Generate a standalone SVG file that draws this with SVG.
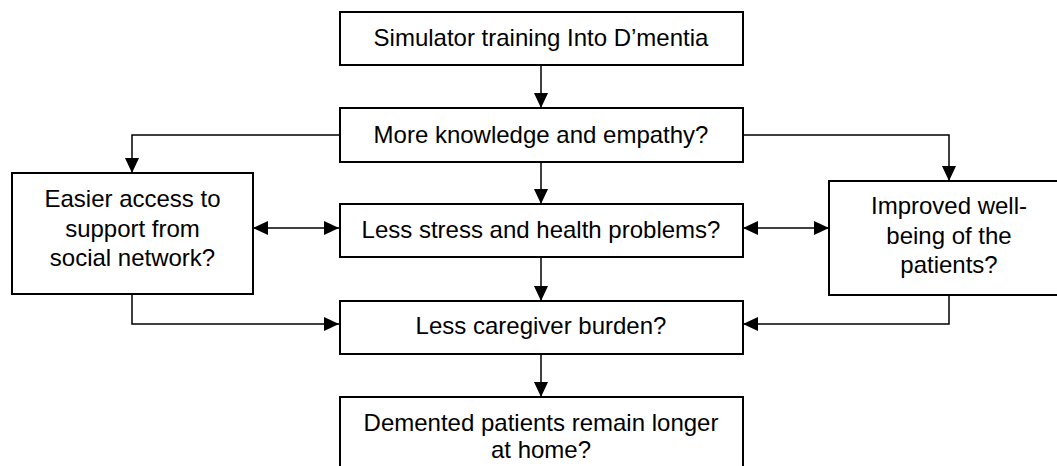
<svg xmlns="http://www.w3.org/2000/svg" width="1057" height="466" viewBox="0 0 1057 466">
<style>
.box{fill:#fff;stroke:#000;stroke-width:2}
.t{font-family:"Liberation Sans",Arial,sans-serif;font-size:24px;fill:#000;text-anchor:middle}
.c{fill:none;stroke:#000;stroke-width:1.5}
</style>
<defs>
<marker id="ah" markerUnits="userSpaceOnUse" markerWidth="15" markerHeight="14" refX="15" refY="7" orient="auto-start-reverse">
<path d="M0,0 L15,7 L0,14 z" fill="#000"/>
</marker>
</defs>
<rect width="1057" height="466" fill="#fff"/>
<g id="connectors">
<line class="c" x1="541" y1="65" x2="541" y2="108" marker-end="url(#ah)"/>
<line class="c" x1="541" y1="162" x2="541" y2="204" marker-end="url(#ah)"/>
<line class="c" x1="541" y1="257" x2="541" y2="301" marker-end="url(#ah)"/>
<line class="c" x1="541" y1="354" x2="541" y2="397" marker-end="url(#ah)"/>
<polyline class="c" points="340,135 132,135 132,173" marker-end="url(#ah)"/>
<polyline class="c" points="743,135 949,135 949,181" marker-end="url(#ah)"/>
<line class="c" x1="253" y1="228" x2="339" y2="228" marker-start="url(#ah)" marker-end="url(#ah)"/>
<line class="c" x1="743" y1="228" x2="829" y2="228" marker-start="url(#ah)" marker-end="url(#ah)"/>
<polyline class="c" points="132,294 132,324 339,324" marker-end="url(#ah)"/>
<polyline class="c" points="949,295 949,324 743,324" marker-end="url(#ah)"/>
</g>
<g id="n1"><rect class="box" x="340" y="12" width="403" height="53"/><text class="t" x="541" y="46">Simulator training Into D’mentia</text></g>
<g id="n2"><rect class="box" x="340" y="108" width="403" height="54"/><text class="t" x="541" y="143">More knowledge and empathy?</text></g>
<g id="n3"><rect class="box" x="340" y="204" width="403" height="53"/><text class="t" x="541" y="238">Less stress and health problems?</text></g>
<g id="n4"><rect class="box" x="12" y="173" width="241" height="121"/><text class="t" x="132.5" y="207">Easier access to</text><text class="t" x="132.5" y="237">support from</text><text class="t" x="132.5" y="266">social network?</text></g>
<g id="n5"><rect class="box" x="829" y="181" width="240" height="114"/><text class="t" x="949" y="214">Improved well-</text><text class="t" x="949" y="244">being of the</text><text class="t" x="949" y="273">patients?</text></g>
<g id="n6"><rect class="box" x="340" y="301" width="403" height="53"/><text class="t" x="541" y="334">Less caregiver burden?</text></g>
<g id="n7"><rect class="box" x="340" y="397" width="403" height="80"/><text class="t" x="541" y="431">Demented patients remain longer</text><text class="t" x="541" y="458">at home?</text></g>
</svg>
